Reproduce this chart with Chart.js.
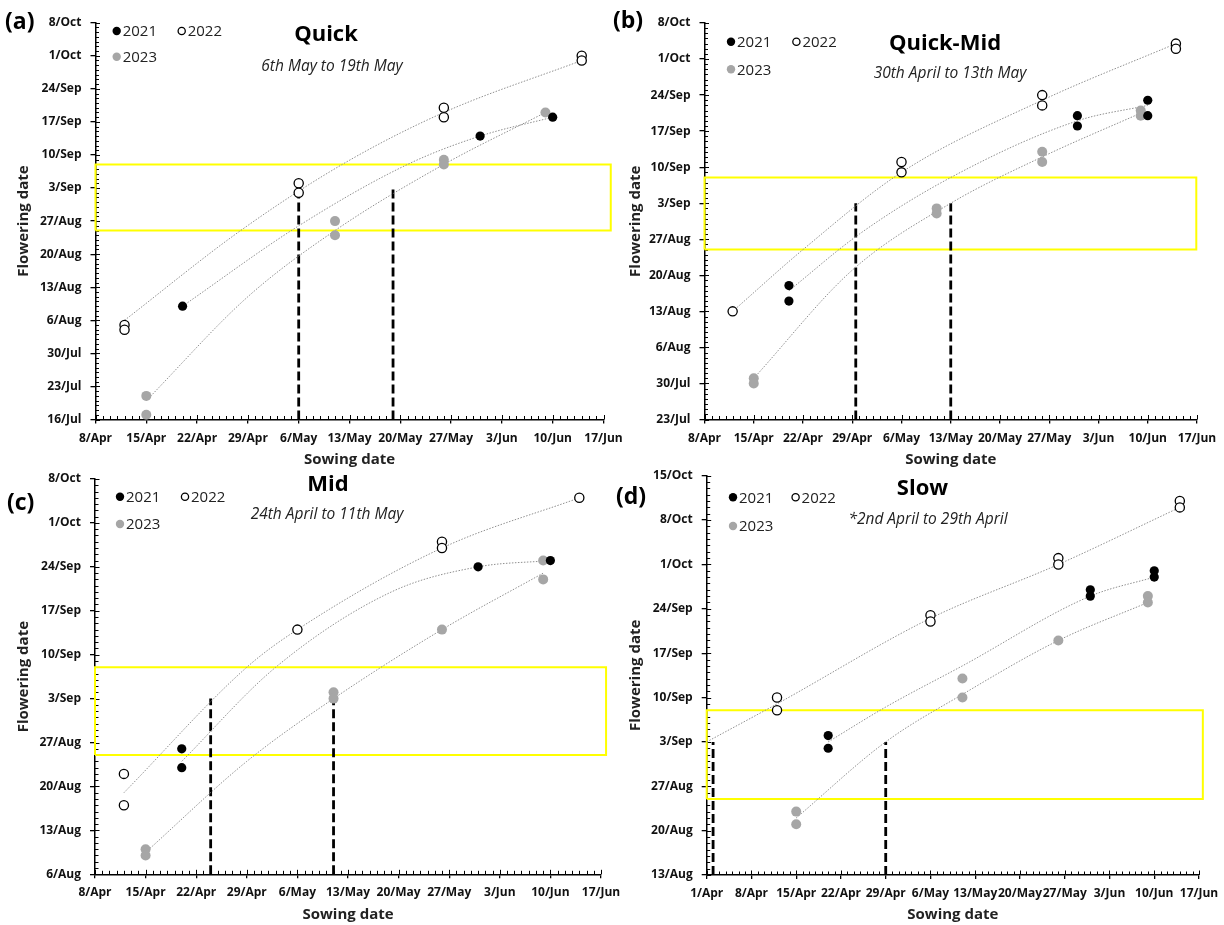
<!DOCTYPE html>
<html>
<head>
<meta charset="utf-8">
<title>Flowering date against sowing date</title>
<script src="https://cdn.jsdelivr.net/npm/chart.js@4.4.1/dist/chart.umd.min.js"></script>
<style>
  html, body { margin: 0; padding: 0; background: #fff; overflow: hidden; }
  canvas { position: absolute; }
</style>
</head>
<body>
<canvas id="ca" width="640" height="470" style="left:0;top:0;width:640px;height:470px"></canvas>
<canvas id="cb" width="612" height="470" style="left:612px;top:0;width:612px;height:470px"></canvas>
<canvas id="cc" width="640" height="459" style="left:0;top:466px;width:640px;height:459px"></canvas>
<canvas id="cd" width="612" height="459" style="left:612px;top:466px;width:612px;height:459px"></canvas>
<script>
// dates are written day/Month, pairs are [sowing date, flowering date]
const years = ['2021', '2022', '2023'];

const sowTicks = ['8/Apr', '15/Apr', '22/Apr', '29/Apr', '6/May', '13/May', '20/May', '27/May', '3/Jun', '10/Jun', '17/Jun'];
const sowTicksSlow = ['1/Apr', '8/Apr', '15/Apr', '22/Apr', '29/Apr', '6/May', '13/May', '20/May', '27/May', '3/Jun', '10/Jun', '17/Jun'];
const flowerTicksQuick = ['16/Jul', '23/Jul', '30/Jul', '6/Aug', '13/Aug', '20/Aug', '27/Aug', '3/Sep', '10/Sep', '17/Sep', '24/Sep', '1/Oct', '8/Oct'];
const flowerTicksQuickMid = ['23/Jul', '30/Jul', '6/Aug', '13/Aug', '20/Aug', '27/Aug', '3/Sep', '10/Sep', '17/Sep', '24/Sep', '1/Oct', '8/Oct'];
const flowerTicksMid = ['6/Aug', '13/Aug', '20/Aug', '27/Aug', '3/Sep', '10/Sep', '17/Sep', '24/Sep', '1/Oct', '8/Oct'];
const flowerTicksSlow = ['13/Aug', '20/Aug', '27/Aug', '3/Sep', '10/Sep', '17/Sep', '24/Sep', '1/Oct', '8/Oct', '15/Oct'];

// yellow box: target flowering window
const targetWindow = ['25/Aug', '8/Sep'];

// (a) Quick
const quick2021 = [['20/Apr', '9/Aug'], ['31/May', '14/Sep'], ['10/Jun', '18/Sep']];
const quick2022 = [['12/Apr', '5/Aug'], ['12/Apr', '4/Aug'], ['6/May', '4/Sep'], ['6/May', '2/Sep'], ['26/May', '20/Sep'], ['26/May', '18/Sep'], ['14/Jun', '1/Oct'], ['14/Jun', '30/Sep']];
const quick2023 = [['15/Apr', '21/Jul'], ['15/Apr', '17/Jul'], ['11/May', '27/Aug'], ['11/May', '24/Aug'], ['26/May', '9/Sep'], ['26/May', '8/Sep'], ['9/Jun', '19/Sep']];
const quickFit2021 = [['20/Apr', '9/Aug'], ['6/May', '26/Aug'], ['21/May', '8/Sep'], ['31/May', '14/Sep'], ['10/Jun', '18/Sep']];
const quickFit2022 = [['12/Apr', '6/Aug'], ['28/Apr', '25/Aug'], ['12/May', '8/Sep'], ['26/May', '19/Sep'], ['14/Jun', '30/Sep']];
const quickFit2023 = [['15/Apr', '20/Jul'], ['29/Apr', '11/Aug'], ['11/May', '25/Aug'], ['26/May', '8/Sep'], ['9/Jun', '19/Sep']];
const quickSowing = [['6/May', '2/Sep'], ['19/May', '3/Sep']];

// (b) Quick-Mid
const qmid2021 = [['20/Apr', '18/Aug'], ['20/Apr', '15/Aug'], ['31/May', '20/Sep'], ['31/May', '18/Sep'], ['10/Jun', '23/Sep'], ['10/Jun', '20/Sep']];
const qmid2022 = [['12/Apr', '13/Aug'], ['6/May', '11/Sep'], ['6/May', '9/Sep'], ['26/May', '24/Sep'], ['26/May', '22/Sep'], ['14/Jun', '4/Oct'], ['14/Jun', '3/Oct']];
const qmid2023 = [['15/Apr', '31/Jul'], ['15/Apr', '30/Jul'], ['11/May', '2/Sep'], ['11/May', '1/Sep'], ['26/May', '13/Sep'], ['26/May', '11/Sep'], ['9/Jun', '21/Sep'], ['9/Jun', '20/Sep']];
const qmidFit2021 = [['20/Apr', '17/Aug'], ['30/Apr', '28/Aug'], ['13/May', '8/Sep'], ['31/May', '19/Sep'], ['10/Jun', '22/Sep']];
const qmidFit2022 = [['12/Apr', '13/Aug'], ['22/Apr', '25/Aug'], ['6/May', '9/Sep'], ['26/May', '23/Sep'], ['14/Jun', '4/Oct']];
const qmidFit2023 = [['15/Apr', '31/Jul'], ['29/Apr', '21/Aug'], ['13/May', '3/Sep'], ['26/May', '12/Sep'], ['9/Jun', '20.5/Sep']];
const qmidSowing = [['29.5/Apr', '3/Sep'], ['13/May', '3/Sep']];

// (c) Mid
const mid2021 = [['20/Apr', '26/Aug'], ['20/Apr', '23/Aug'], ['31/May', '24/Sep'], ['10/Jun', '25/Sep']];
const mid2022 = [['12/Apr', '22/Aug'], ['12/Apr', '17/Aug'], ['6/May', '14/Sep'], ['26/May', '28/Sep'], ['26/May', '27/Sep'], ['14/Jun', '5/Oct']];
const mid2023 = [['15/Apr', '10/Aug'], ['15/Apr', '9/Aug'], ['11/May', '4/Sep'], ['11/May', '3/Sep'], ['26/May', '14/Sep'], ['9/Jun', '25/Sep'], ['9/Jun', '22/Sep']];
const midFit2021 = [['20/Apr', '24/Aug'], ['3/May', '8/Sep'], ['19/May', '20/Sep'], ['31/May', '24/Sep'], ['10/Jun', '25/Sep']];
const midFit2022 = [['12/Apr', '19/Aug'], ['29/Apr', '8/Sep'], ['6/May', '14/Sep'], ['26/May', '27/Sep'], ['14/Jun', '5/Oct']];
const midFit2023 = [['15/Apr', '9.5/Aug'], ['29/Apr', '24/Aug'], ['11/May', '3/Sep'], ['26/May', '14/Sep'], ['9/Jun', '23/Sep']];
const midSowing = [['24/Apr', '3/Sep'], ['11/May', '3/Sep']];

// (d) Slow
const slow2021 = [['20/Apr', '4/Sep'], ['20/Apr', '2/Sep'], ['31/May', '27/Sep'], ['31/May', '26/Sep'], ['10/Jun', '30/Sep'], ['10/Jun', '29/Sep']];
const slow2022 = [['12/Apr', '10/Sep'], ['12/Apr', '8/Sep'], ['6/May', '23/Sep'], ['6/May', '22/Sep'], ['26/May', '2/Oct'], ['26/May', '1/Oct'], ['14/Jun', '11/Oct'], ['14/Jun', '10/Oct']];
const slow2023 = [['15/Apr', '23/Aug'], ['15/Apr', '21/Aug'], ['11/May', '13/Sep'], ['11/May', '10/Sep'], ['26/May', '19/Sep'], ['9/Jun', '26/Sep'], ['9/Jun', '25/Sep']];
const slowFit2021 = [['20/Apr', '3/Sep'], ['29/Apr', '8.5/Sep'], ['11/May', '15/Sep'], ['31/May', '26/Sep'], ['10/Jun', '29/Sep']];
const slowFit2022 = [['1/Apr', '3/Sep'], ['12/Apr', '9/Sep'], ['6/May', '22.5/Sep'], ['26/May', '1/Oct'], ['14/Jun', '10/Oct']];
const slowFit2023 = [['15/Apr', '22/Aug'], ['29/Apr', '3/Sep'], ['11/May', '10.5/Sep'], ['26/May', '19/Sep'], ['9/Jun', '25/Sep']];
const slowSowing = [['2/Apr', '3/Sep'], ['29/Apr', '3/Sep']];

const MONTH_START = {Jan: 0, Feb: 31, Mar: 59, Apr: 90, May: 120, Jun: 151, Jul: 181, Aug: 212, Sep: 243, Oct: 273, Nov: 304, Dec: 334};
function doy(s) {
  const [d, m] = s.split('/');
  return MONTH_START[m] + parseFloat(d);
}
function pts(pairs) {
  return pairs.map(([s, f]) => ({x: doy(s), y: doy(f)}));
}

const seriesStyle = [
  {fill: '#000000', line: '#000000', r: 4.6},
  {fill: '#ffffff', line: '#000000', r: 4.6},
  {fill: '#a6a6a6', line: '#a6a6a6', r: 5}
];

const panels = [
  {canvas: 'ca', tag: '(a)', title: 'Quick', sub: '6th May to 19th May',
   xTicks: sowTicks, yTicks: flowerTicksQuick, boxEnd: '18/Jun',
   series: [quick2021, quick2022, quick2023], fits: [quickFit2021, quickFit2022, quickFit2023], sowing: quickSowing,
   geo: {w: 640, h: 470, l: 95.5, r: 603.5, t: 22.7, b: 419.5, tag: [5, 22.5], title: [326, 35], sub: [332, 67], leg: [116.7, 31, 181.7, 56.7]}},
  {canvas: 'cb', tag: '(b)', title: 'Quick-Mid', sub: '30th April to 13th May',
   xTicks: sowTicks, yTicks: flowerTicksQuickMid, boxEnd: '16.9/Jun',
   series: [qmid2021, qmid2022, qmid2023], fits: [qmidFit2021, qmidFit2022, qmidFit2023], sowing: qmidSowing,
   geo: {w: 612, h: 470, l: 92.5, r: 585, t: 23, b: 419.5, tag: [1, 21], title: [333, 43.3], sub: [338, 74], leg: [119, 41.7, 184.4, 69.3]}},
  {canvas: 'cc', tag: '(c)', title: 'Mid', sub: '24th April to 11th May',
   xTicks: sowTicks, yTicks: flowerTicksMid, boxEnd: '17.7/Jun',
   series: [mid2021, mid2022, mid2023], fits: [midFit2021, midFit2022, midFit2023], sowing: midSowing,
   geo: {w: 640, h: 459, l: 95, r: 601, t: 13, b: 408.3, tag: [7, 37], title: [328, 19], sub: [327, 49], leg: [120, 30.7, 185, 58]}},
  {canvas: 'cd', tag: '(d)', title: 'Slow', sub: '*2nd April to 29th April',
   xTicks: sowTicksSlow, yTicks: flowerTicksSlow, boxEnd: '17.6/Jun',
   series: [slow2021, slow2022, slow2023], fits: [slowFit2021, slowFit2022, slowFit2023], sowing: slowSowing,
   geo: {w: 612, h: 459, l: 94.7, r: 587, t: 9.7, b: 409, tag: [4, 31], title: [310.5, 22.3], sub: [316, 53.3], leg: [121, 31.3, 183.6, 60]}}
];

// small daily ticks on the inside of both axes
const innerTicks = {
  id: 'innerTicks',
  beforeDatasetsDraw(chart) {
    const {ctx, chartArea: a, scales: {x, y}} = chart;
    ctx.save();
    ctx.strokeStyle = '#000';
    ctx.lineWidth = 1;
    ctx.beginPath();
    for (let v = x.min; v <= x.max; v++) {
      const px = Math.round(x.getPixelForValue(v)) + 0.5;
      ctx.moveTo(px, a.bottom);
      ctx.lineTo(px, a.bottom - ((v - x.min) % 7 === 0 ? 4.5 : 3.5));
    }
    for (let v = y.min; v <= y.max; v++) {
      const py = Math.round(y.getPixelForValue(v)) + 0.5;
      ctx.moveTo(a.left, py);
      ctx.lineTo(a.left + ((v - y.min) % 7 === 0 ? 4.5 : 3.5), py);
    }
    ctx.stroke();
    ctx.restore();
  }
};

// panel letter, title, subtitle and the legend inside the plot
const panelText = {
  id: 'panelText',
  afterDraw(chart, args, o) {
    const ctx = chart.ctx;
    const g = o.geo;
    ctx.save();
    ctx.textBaseline = 'middle';
    ctx.fillStyle = '#000';
    ctx.textAlign = 'left';
    ctx.font = 'bold 23px "Open Sans"';
    ctx.fillText(o.tag, g.tag[0], g.tag[1]);
    ctx.textAlign = 'center';
    ctx.font = 'bold 22px "Open Sans"';
    ctx.fillText(o.title, g.title[0], g.title[1]);
    ctx.font = 'italic 15.5px "Open Sans"';
    ctx.fillStyle = '#222';
    ctx.fillText(o.sub, g.sub[0], g.sub[1]);

    const [x1, y1, x2, y2] = g.leg;
    const spots = [[x1, y1], [x2, y1], [x1, y2]];
    ctx.textAlign = 'left';
    ctx.font = '15px "Open Sans"';
    years.forEach((yr, i) => {
      const [cx, cy] = spots[i];
      ctx.beginPath();
      ctx.arc(cx, cy, i === 1 ? 3.6 : 4.2, 0, Math.PI * 2);
      ctx.fillStyle = seriesStyle[i].fill;
      ctx.fill();
      if (i === 1) {
        ctx.lineWidth = 1.3;
        ctx.strokeStyle = '#000';
        ctx.stroke();
      }
      ctx.fillStyle = '#222';
      ctx.fillText(yr, cx + 6, cy + 1);
    });
    ctx.restore();
  }
};

const tickFont = {family: 'Open Sans', size: 12, weight: 'bold'};
const axisFont = {family: 'Open Sans', size: 15, weight: 'bold'};

function makePanel(p) {
  const g = p.geo;
  const xs = p.xTicks.map(doy);
  const ys = p.yTicks.map(doy);
  const xMin = xs[0], xMax = xs[xs.length - 1];
  const yMin = ys[0], yMax = ys[ys.length - 1];
  const [boxLo, boxHi] = targetWindow.map(doy);
  const boxRight = doy(p.boxEnd);

  const datasets = [];
  p.series.forEach((s, i) => {
    datasets.push({
      label: years[i],
      data: pts(s),
      pointRadius: seriesStyle[i].r,
      pointBackgroundColor: seriesStyle[i].fill,
      pointBorderColor: seriesStyle[i].line,
      pointBorderWidth: i === 1 ? 1.3 : 0,
      clip: false
    });
  });
  p.fits.forEach((f) => {
    datasets.push({
      label: 'trend',
      data: pts(f),
      showLine: true,
      pointRadius: 0,
      borderColor: '#8f8f8f',
      borderWidth: 1,
      borderDash: [1.5, 1.5],
      cubicInterpolationMode: 'monotone',
      clip: false
    });
  });
  p.sowing.forEach(([s, f]) => {
    datasets.push({
      label: 'sowing window',
      data: [{x: doy(s), y: yMin}, {x: doy(s), y: doy(f)}],
      showLine: true,
      pointRadius: 0,
      borderColor: '#000',
      borderWidth: 2.8,
      borderDash: [9, 4],
      clip: false
    });
  });
  datasets.push({
    label: 'target',
    data: [{x: xMin, y: boxLo}, {x: boxRight, y: boxLo}, {x: boxRight, y: boxHi}, {x: xMin, y: boxHi}, {x: xMin, y: boxLo}],
    showLine: true,
    pointRadius: 0,
    borderColor: '#ffff00',
    borderWidth: 2,
    clip: false
  });

  return new Chart(document.getElementById(p.canvas), {
    type: 'scatter',
    data: {datasets},
    options: {
      responsive: false,
      devicePixelRatio: 1,
      animation: false,
      events: [],
      layout: {autoPadding: false, padding: {left: 0, top: g.t, right: g.w - g.r, bottom: 0}},
      plugins: {
        legend: {display: false},
        tooltip: {enabled: false},
        panelText: {tag: p.tag, title: p.title, sub: p.sub, geo: g}
      },
      scales: {
        x: {
          type: 'linear',
          min: xMin,
          max: xMax,
          afterBuildTicks: s => { s.ticks = xs.map(v => ({value: v})); },
          afterFit: s => { s.height = g.h - g.b; s.paddingLeft = 0; s.paddingRight = 0; },
          ticks: {autoSkip: false, maxRotation: 0, minRotation: 0, padding: 7.5, font: tickFont, color: '#111',
                  callback: (v, i) => p.xTicks[i]},
          grid: {drawOnChartArea: false, tickLength: 4, color: '#000', lineWidth: 1.3},
          border: {color: '#000', width: 1.5},
          title: {display: true, text: 'Sowing date', font: axisFont, color: '#222',
                  padding: {top: 0, bottom: g.h - g.b - 40 - 9}}
        },
        y: {
          type: 'linear',
          min: yMin,
          max: yMax,
          afterBuildTicks: s => { s.ticks = ys.map(v => ({value: v})); },
          afterFit: s => { s.width = g.l; s.paddingTop = 0; s.paddingBottom = 0; },
          ticks: {autoSkip: false, padding: 9, font: tickFont, color: '#111',
                  callback: (v, i) => p.yTicks[i]},
          grid: {drawOnChartArea: false, tickLength: 5, color: '#000', lineWidth: 1.3},
          border: {color: '#000', width: 1.5},
          title: {display: true, text: 'Flowering date', font: axisFont, color: '#222',
                  padding: {top: 15, bottom: 0}}
        }
      }
    },
    plugins: [innerTicks, panelText]
  });
}

panels.forEach(makePanel);
</script>
</body>
</html>
